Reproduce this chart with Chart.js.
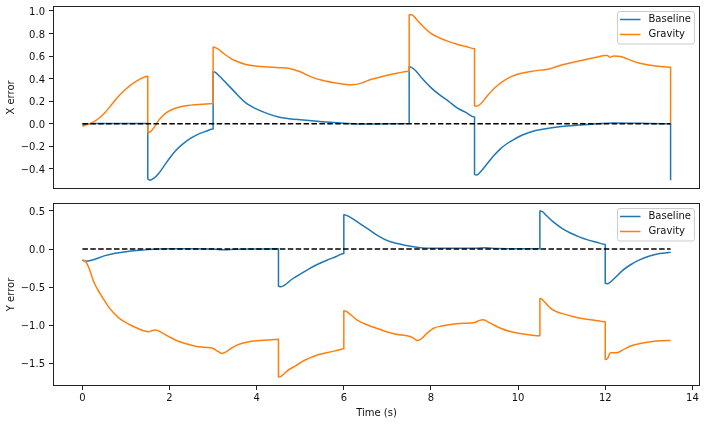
<!DOCTYPE html>
<html>
<head>
<meta charset="utf-8">
<script src="https://cdn.jsdelivr.net/npm/chart.js@4/dist/chart.umd.min.js"></script>
<style>
  html, body { margin: 0; padding: 0; background: #fff; }
  #wrap { position: relative; width: 706px; height: 424px; }
  canvas { position: absolute; left: 0; }
  #topChart { top: 0; }
  #bottomChart { top: 196px; }
</style>
</head>
<body>
<div id="wrap">
  <canvas id="topChart" width="706" height="196"></canvas>
  <canvas id="bottomChart" width="706" height="228"></canvas>
</div>
<script>
// --- data ---
const xTicks = [0, 2, 4, 6, 8, 10, 12, 14];
const topYTicks = [-0.4, -0.2, 0.0, 0.2, 0.4, 0.6, 0.8, 1.0];
const bottomYTicks = [-1.5, -1.0, -0.5, 0.0, 0.5];

// X error, Baseline
const xBaseT = [0, 0.1, 0.25, 0.5, 1.0, 1.5,
  1.5, 1.55, 1.65, 1.75, 1.9, 2.0, 2.15, 2.3, 2.5, 2.7, 2.85, 3.0,
  3.0, 3.05, 3.15, 3.25, 3.4, 3.5, 3.65, 3.75, 3.9, 4.0, 4.25, 4.5, 4.75, 5.0, 5.5, 6.0, 6.5, 7.0, 7.5,
  7.5, 7.55, 7.65, 7.8, 8.0, 8.2, 8.4, 8.6, 8.8, 9.0,
  9.0, 9.05, 9.15, 9.3, 9.45, 9.6, 9.75, 9.9, 10.1, 10.4, 10.7, 11.0, 11.4, 11.8, 12.2, 12.6, 13.0, 13.5,
  13.5];
const xBaseV = [-0.01, 0.0, 0.003, 0.003, 0.003, 0.003,
  -0.49, -0.5, -0.48, -0.44, -0.36, -0.305, -0.235, -0.18, -0.125, -0.085, -0.065, -0.047,
  0.46, 0.455, 0.42, 0.38, 0.32, 0.28, 0.22, 0.185, 0.15, 0.13, 0.09, 0.06, 0.045, 0.035, 0.018, 0.005, -0.003, 0.0, 0.002,
  0.505, 0.5, 0.47, 0.4, 0.32, 0.255, 0.2, 0.14, 0.1, 0.06,
  -0.45, -0.455, -0.42, -0.35, -0.28, -0.22, -0.175, -0.14, -0.1, -0.06, -0.04, -0.025, -0.012, 0.0, 0.006, 0.005, 0.002, 0.0,
  -0.5];

// X error, Gravity
const xGravT = [0, 0.1, 0.2, 0.35, 0.5, 0.65, 0.8, 0.95, 1.1, 1.25, 1.4, 1.5,
  1.5, 1.55, 1.65, 1.75, 1.9, 2.0, 2.25, 2.5, 2.75, 3.0,
  3.0, 3.1, 3.25, 3.4, 3.5, 3.75, 4.0, 4.25, 4.5, 4.75, 5.0, 5.25, 5.5, 5.75, 6.0, 6.2, 6.4, 6.6, 6.8, 7.0, 7.25, 7.5,
  7.5, 7.55, 7.7, 7.85, 8.0, 8.2, 8.4, 8.6, 8.8, 9.0,
  9.0, 9.05, 9.15, 9.3, 9.5, 9.75, 10.0, 10.25, 10.5, 10.65, 11.0, 11.5, 11.8, 12.0, 12.05, 12.1, 12.2, 12.35, 12.5, 12.75, 13.0, 13.25, 13.5,
  13.5];
const xGravV = [-0.02, -0.01, 0.005, 0.04, 0.09, 0.16, 0.23, 0.29, 0.34, 0.38, 0.41, 0.42,
  -0.08, -0.075, -0.03, 0.03, 0.09, 0.115, 0.15, 0.165, 0.173, 0.18,
  0.68, 0.665, 0.62, 0.58, 0.56, 0.525, 0.51, 0.503, 0.497, 0.49, 0.46, 0.415, 0.385, 0.365, 0.35, 0.345, 0.36, 0.39, 0.41, 0.43, 0.45, 0.465,
  0.965, 0.965, 0.91, 0.85, 0.8, 0.76, 0.73, 0.705, 0.685, 0.665,
  0.16, 0.155, 0.18, 0.25, 0.33, 0.4, 0.44, 0.46, 0.475, 0.48, 0.52, 0.565, 0.59, 0.605, 0.605, 0.59, 0.6, 0.595, 0.575, 0.54, 0.52, 0.507, 0.5,
  0.0];

// Y error, Baseline
const yBaseT = [0, 0.08, 0.25, 0.5, 0.75, 1.0, 1.25, 1.5, 1.75, 2.0, 2.5, 3.0, 3.25, 3.5, 4.0, 4.5,
  4.5, 4.55, 4.65, 4.8, 5.0, 5.2, 5.4, 5.6, 5.8, 6.0,
  6.0, 6.05, 6.2, 6.4, 6.6, 6.8, 7.0, 7.2, 7.4, 7.6, 7.8, 8.0, 8.5, 9.0, 9.25, 9.5, 10.0, 10.5,
  10.5, 10.55, 10.65, 10.8, 11.0, 11.2, 11.4, 11.6, 11.8, 12.0,
  12.0, 12.05, 12.2, 12.4, 12.6, 12.8, 13.0, 13.25, 13.5];
const yBaseV = [-0.144, -0.16, -0.14, -0.09, -0.055, -0.035, -0.02, -0.008, 0.0, 0.003, 0.003, 0.0, -0.01, -0.003, 0.0, 0.002,
  -0.49, -0.495, -0.47, -0.4, -0.33, -0.26, -0.2, -0.15, -0.105, -0.06,
  0.45, 0.445, 0.4, 0.32, 0.245, 0.17, 0.11, 0.075, 0.05, 0.03, 0.015, 0.01, 0.01, 0.01, 0.015, 0.008, 0.003, 0.003,
  0.5, 0.495, 0.44, 0.36, 0.275, 0.21, 0.16, 0.12, 0.09, 0.06,
  -0.45, -0.455, -0.39, -0.28, -0.2, -0.14, -0.095, -0.06, -0.044];

// Y error, Gravity
const yGravT = [0, 0.08, 0.15, 0.26, 0.4, 0.5, 0.6, 0.72, 0.85, 1.0, 1.15, 1.3, 1.45, 1.52, 1.6, 1.68, 1.8, 2.0, 2.2, 2.4, 2.6, 2.8, 3.0, 3.1, 3.2, 3.3, 3.45, 3.6, 3.8, 4.0, 4.25, 4.5,
  4.5, 4.55, 4.7, 4.9, 5.1, 5.3, 5.5, 5.7, 5.85, 6.0,
  6.0, 6.05, 6.15, 6.3, 6.45, 6.65, 6.85, 7.0, 7.2, 7.5, 7.6, 7.68, 7.75, 7.9, 8.06, 8.25, 8.45, 8.75, 9.0, 9.1, 9.2, 9.35, 9.6, 9.8, 10.0, 10.25, 10.5,
  10.5, 10.55, 10.65, 10.75, 10.85, 11.0, 11.25, 11.5, 11.75, 12.0,
  12.0, 12.05, 12.12, 12.27, 12.45, 12.6, 12.8, 13.0, 13.25, 13.5];
const yGravV = [-0.144, -0.17, -0.25, -0.43, -0.58, -0.67, -0.76, -0.84, -0.91, -0.965, -1.01, -1.05, -1.08, -1.085, -1.07, -1.063, -1.09, -1.155, -1.21, -1.247, -1.275, -1.29, -1.305, -1.34, -1.37, -1.35, -1.29, -1.25, -1.22, -1.205, -1.195, -1.185,
  -1.68, -1.675, -1.6, -1.53, -1.46, -1.41, -1.375, -1.35, -1.33, -1.31,
  -0.81, -0.815, -0.86, -0.93, -0.975, -1.02, -1.06, -1.09, -1.12, -1.145, -1.17, -1.2, -1.19, -1.11, -1.04, -1.01, -0.99, -0.975, -0.965, -0.94, -0.93, -0.97, -1.04, -1.08, -1.106, -1.125, -1.14,
  -0.65, -0.66, -0.72, -0.78, -0.815, -0.845, -0.885, -0.915, -0.935, -0.954,
  -1.45, -1.44, -1.36, -1.36, -1.31, -1.27, -1.24, -1.22, -1.205, -1.2];

// dashed zero reference
const refT = [0, 13.5];
const refV = [0, 0];

// --- helpers ---
Chart.defaults.font.family = '"DejaVu Sans", sans-serif';
Chart.defaults.font.size = 10;
Chart.defaults.color = '#111';

const BLUE = '#1f77b4';
const ORANGE = '#ff7f0e';
const AXIS = '#222';

function toPoints(ts, vs) {
  return ts.map((t, i) => ({ x: t, y: vs[i] }));
}

function fmtTick(v) {
  const s = Number(v).toFixed(1);
  return s.startsWith('-') ? '\u2212' + s.slice(1) : s;
}

function makeDatasets(baseT, baseV, gravT, gravV) {
  const common = { pointRadius: 0, borderWidth: 1.5, fill: false, borderJoinStyle: 'round', cubicInterpolationMode: 'monotone' };
  return [
    Object.assign({ label: '', data: toPoints(refT, refV), borderColor: '#000', borderDash: [5.5, 2.4], order: 0 }, common),
    Object.assign({ label: 'Gravity', data: toPoints(gravT, gravV), borderColor: ORANGE, order: 1 }, common),
    Object.assign({ label: 'Baseline', data: toPoints(baseT, baseV), borderColor: BLUE, order: 2 }, common)
  ];
}

// frame round the plot area (matplotlib spines)
const framePlugin = {
  id: 'frame',
  afterDatasetsDraw(chart) {
    const a = chart.chartArea, ctx = chart.ctx;
    ctx.save();
    ctx.strokeStyle = AXIS;
    ctx.lineWidth = 1;
    ctx.strokeRect(Math.round(a.left) + 0.5, Math.round(a.top) + 0.5,
      Math.round(a.width) - 1, Math.round(a.height) - 1);
    ctx.restore();
  }
};

// legend box in the top-right corner
const boxLegendPlugin = {
  id: 'boxLegend',
  afterDraw(chart) {
    const a = chart.chartArea, ctx = chart.ctx;
    const items = [
      { text: 'Baseline', color: BLUE },
      { text: 'Gravity', color: ORANGE }
    ];
    const w = 77, h = 32.5;
    const x = a.right - 6 - w, y = a.top + 5;
    ctx.save();
    ctx.beginPath();
    ctx.roundRect(x + 0.5, y + 0.5, w, h, 2.5);
    ctx.fillStyle = 'rgba(255,255,255,0.8)';
    ctx.fill();
    ctx.strokeStyle = '#cccccc';
    ctx.lineWidth = 1;
    ctx.stroke();
    ctx.font = '10px "DejaVu Sans", sans-serif';
    ctx.textBaseline = 'middle';
    ctx.textAlign = 'left';
    items.forEach((it, i) => {
      const ry = y + 8.5 + i * 15;
      ctx.beginPath();
      ctx.moveTo(x + 3, ry);
      ctx.lineTo(x + 23.5, ry);
      ctx.strokeStyle = it.color;
      ctx.lineWidth = 1.5;
      ctx.stroke();
      ctx.fillStyle = '#111';
      ctx.fillText(it.text, x + 31.5, ry);
    });
    ctx.restore();
  }
};

function yAxis(min, max, ticks, title) {
  return {
    type: 'linear',
    min: min,
    max: max,
    afterBuildTicks: s => { s.ticks = ticks.map(v => ({ value: v })); },
    afterFit: s => { s.width = 53; s.paddingTop = 0; s.paddingBottom = 0; },
    ticks: { callback: v => fmtTick(v), padding: 4, color: '#111', labelOffset: 1.5 },
    title: { display: true, text: title, color: '#111', padding: { top: 5, bottom: 0 } },
    grid: { display: true, drawOnChartArea: false, drawTicks: true, tickLength: 4, color: AXIS },
    border: { display: false }
  };
}

const X_MIN = -0.675, X_MAX = 14.175;

// --- top: X error ---
new Chart(document.getElementById('topChart'), {
  type: 'line',
  data: { datasets: makeDatasets(xBaseT, xBaseV, xGravT, xGravV) },
  options: {
    responsive: false,
    animation: false,
    layout: { padding: { left: 0, right: 6, top: 6, bottom: 7 } },
    plugins: { legend: { display: false }, tooltip: { enabled: false } },
    scales: {
      x: { type: 'linear', min: X_MIN, max: X_MAX, display: false },
      y: yAxis(-0.578, 1.043, topYTicks, 'X error')
    }
  },
  plugins: [framePlugin, boxLegendPlugin]
});

// --- bottom: Y error ---
new Chart(document.getElementById('bottomChart'), {
  type: 'line',
  data: { datasets: makeDatasets(yBaseT, yBaseV, yGravT, yGravV) },
  options: {
    responsive: false,
    animation: false,
    layout: { padding: { left: 0, right: 6, top: 7, bottom: 0 } },
    plugins: { legend: { display: false }, tooltip: { enabled: false } },
    scales: {
      x: {
        type: 'linear',
        min: X_MIN,
        max: X_MAX,
        afterBuildTicks: s => { s.ticks = xTicks.map(v => ({ value: v })); },
        afterFit: s => { s.height = 38; s.paddingLeft = 0; s.paddingRight = 0; },
        ticks: { callback: v => String(v), padding: 2, color: '#111', maxRotation: 0 },
        title: { display: true, text: 'Time (s)', color: '#111', padding: { top: 0, bottom: 5 } },
        grid: { display: true, drawOnChartArea: false, drawTicks: true, tickLength: 4, color: AXIS },
        border: { display: false }
      },
      y: yAxis(-1.798, 0.604, bottomYTicks, 'Y error')
    }
  },
  plugins: [framePlugin, boxLegendPlugin]
});
</script>
</body>
</html>
